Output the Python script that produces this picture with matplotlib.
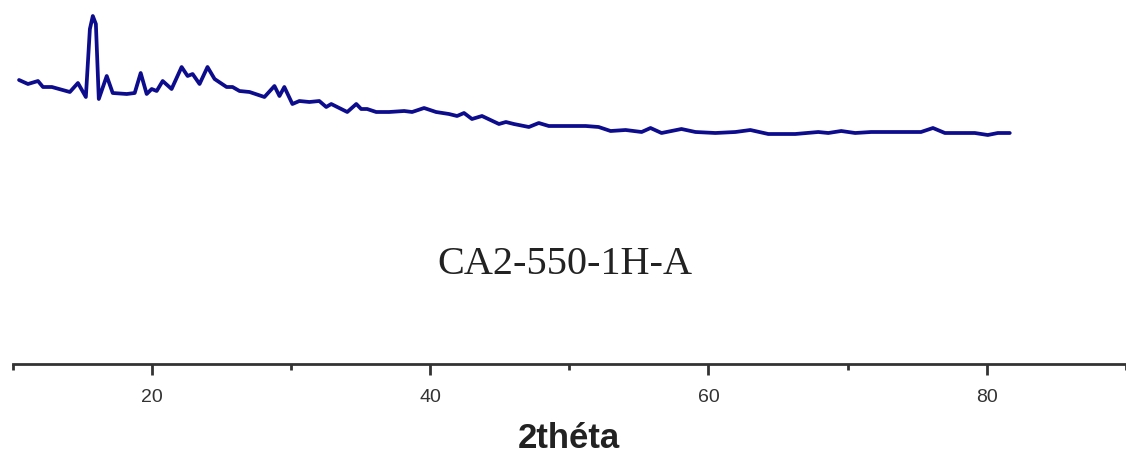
import matplotlib.pyplot as plt

# XRD pattern (2theta in degrees, intensity in a.u.)
two_theta = [10.47, 11.11, 11.83, 12.19, 12.83, 14.12, 14.70, 15.27, 15.56, 15.77,
             15.99, 16.20, 16.77, 17.20, 18.21, 18.78, 19.21, 19.64, 20.00, 20.36,
             20.79, 21.43, 22.15, 22.58, 22.94, 23.44, 24.01, 24.52, 25.38, 25.81,
             26.31, 27.03, 28.10, 28.82, 29.18, 29.53, 30.11, 30.61, 31.33, 32.04,
             32.54, 32.90, 34.05, 34.70, 35.05, 35.48, 36.13, 37.06, 38.14, 38.71,
             39.57, 40.43, 41.36, 41.94, 42.44, 43.01, 43.73, 44.95, 45.45, 46.02,
             47.10, 47.81, 48.53, 49.96, 51.18, 52.11, 52.97, 54.05, 55.20, 55.84,
             56.63, 58.06, 59.07, 60.50, 61.94, 63.01, 64.30, 66.24, 67.89, 68.61,
             69.54, 70.54, 71.69, 72.69, 73.84, 75.27, 76.13, 76.99, 77.92, 79.14,
             80.07, 80.79, 81.65]
intensity = [284, 280, 283, 277, 277, 272, 281, 267, 335, 348,
             340, 265, 288, 271, 270, 271, 291, 270, 275, 273,
             283, 275, 297, 288, 290, 280, 297, 285, 277, 277,
             273, 272, 267, 278, 268, 277, 260, 263, 262, 263,
             257, 260, 252, 260, 255, 255, 252, 252, 253, 252,
             256, 252, 250, 248, 251, 245, 248, 240, 242, 240,
             237, 241, 238, 238, 238, 237, 233, 234, 232, 236,
             231, 235, 232, 231, 232, 234, 230, 230, 232, 231,
             233, 231, 232, 232, 232, 232, 236, 231, 231, 231,
             229, 231, 231]

x_major = [20, 40, 60, 80]
x_minor = [10, 30, 50, 70, 90]
sample_name = "CA2-550-1H-A"
x_label = "2théta"

fig = plt.figure(figsize=(11.26, 4.6), dpi=100)
ax = fig.add_axes([12.5 / 1126, 95 / 460, 1 - 12.5 / 1126, 365 / 460])

ax.plot(two_theta, intensity, color='#0c0c8c', linewidth=2.7,
        solid_joinstyle='round', solid_capstyle='round')

ax.set_xlim(10, 89.8)
ax.set_ylim(0, 365)

# only the bottom axis is drawn
for side in ['left', 'right', 'top']:
    ax.spines[side].set_visible(False)
ax.spines['bottom'].set_color('#333333')
ax.spines['bottom'].set_linewidth(2)
ax.set_yticks([])

ax.set_xticks(x_major)
ax.set_xticks(x_minor, minor=True)
ax.set_xticklabels([str(v) for v in x_major], family='Liberation Sans',
                   fontsize=14, color='#333333')
ax.tick_params(axis='x', which='major', length=8, width=2, color='#333333', pad=9)
ax.tick_params(axis='x', which='minor', length=4, width=2, color='#333333')

ax.set_xlabel(x_label, family='Liberation Sans', fontweight='bold',
              fontsize=25, color='#222222', labelpad=12)

fig.text(565 / 1126, 1 - 264 / 460, sample_name, family='Liberation Serif',
         fontsize=29, color='#222222', ha='center', va='center')

fig.savefig('out.png', dpi=100)
